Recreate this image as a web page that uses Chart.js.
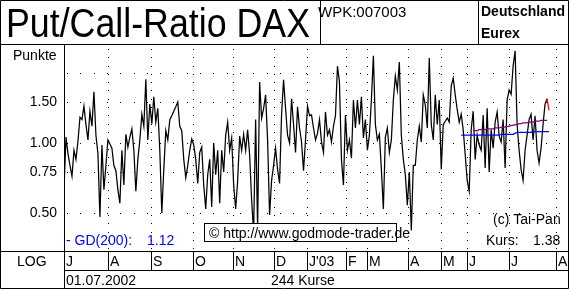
<!DOCTYPE html>
<html>
<head>
<meta charset="utf-8">
<script src="https://cdn.jsdelivr.net/npm/chart.js@4/dist/chart.umd.min.js"></script>
<style>
html, body { margin: 0; padding: 0; background: #fff; }
canvas { display: block; }
</style>
</head>
<body>
<canvas id="myChart" width="569" height="290"></canvas>
<script>
// Put/Call-Ratio DAX, one value per trading day from 01.07.2002
var ratio = [
    0.63, 1.06, 0.90, 0.80, 0.72, 0.93, 0.85, 1.02, 1.29, 1.26, 1.44, 1.20,
    1.03, 1.37, 1.18, 1.66, 1.08, 0.90, 0.48, 0.98, 0.63, 0.80, 1.03, 0.99,
    0.95, 0.80, 0.76, 0.63, 0.55, 0.93, 0.66, 1.09, 0.96, 1.06, 1.15, 0.93,
    0.62, 0.85, 1.03, 1.33, 1.18, 1.88, 1.03, 1.47, 1.21, 1.58, 1.23, 1.41,
    0.93, 0.50, 0.77, 1.13, 1.03, 1.26, 1.31, 1.37, 1.43, 1.50, 1.18, 1.13,
    0.85, 0.71, 0.80, 0.93, 1.04, 0.98, 0.85, 0.67, 0.91, 0.96, 0.66, 0.52,
    0.73, 0.85, 0.53, 1.00, 0.73, 0.93, 0.55, 0.93, 0.75, 1.08, 1.23, 0.93,
    1.05, 0.66, 0.52, 0.69, 1.07, 0.93, 1.09, 0.93, 1.14, 0.89, 0.57, 0.41,
    1.26, 0.43, 1.83, 1.28, 1.41, 1.61, 1.03, 0.49, 0.69, 0.80, 0.95, 0.77,
    0.67, 1.33, 1.87, 1.41, 1.08, 1.00, 1.55, 1.20, 0.91, 1.43, 1.16, 1.01,
    0.76, 1.03, 1.44, 1.31, 1.32, 1.16, 1.03, 1.10, 1.26, 1.01, 0.91, 1.36,
    1.08, 1.14, 1.01, 1.18, 1.31, 2.14, 1.83, 0.85, 0.66, 1.32, 0.93, 1.03,
    0.86, 1.53, 1.16, 1.53, 1.20, 1.58, 1.05, 1.26, 0.93, 1.08, 1.53, 2.37,
    1.20, 1.03, 1.09, 0.77, 0.52, 1.06, 1.16, 0.91, 1.03, 1.53, 1.94, 1.69,
    2.23, 1.08, 0.85, 0.73, 0.54, 0.75, 0.42, 0.80, 0.80, 1.03, 1.18, 1.01,
    1.61, 1.46, 1.16, 2.32, 1.20, 1.03, 1.61, 1.20, 1.53, 0.77, 1.20, 1.24,
    1.28, 1.23, 1.76, 1.90, 1.61, 1.39, 1.23, 1.33, 1.14, 0.89, 0.69, 0.62,
    1.14, 1.37, 0.85, 1.08, 0.98, 0.93, 1.32, 0.78, 1.41, 0.75, 1.14, 0.95,
    1.23, 1.36, 1.07, 1.01, 1.26, 0.78, 1.53, 1.69, 1.62, 2.14, 2.49, 1.20,
    0.93, 0.77, 0.69, 0.93, 1.08, 1.26, 1.33, 1.03, 1.31, 0.93, 0.82, 0.95,
    1.20, 1.47, 1.55, 1.38
];

// GD(200) - 200 day average, first value on day 199
var gdStart = 199;
var gd200 = [
    1.08, 1.08, 1.08, 1.08, 1.08, 1.08, 1.08, 1.08, 1.08, 1.08, 1.08, 1.08,
    1.08, 1.08, 1.08, 1.08, 1.08, 1.08, 1.08, 1.08, 1.09, 1.09, 1.09, 1.09,
    1.09, 1.09, 1.09, 1.10, 1.11, 1.11, 1.11, 1.11, 1.11, 1.11, 1.11, 1.11,
    1.12, 1.12, 1.12, 1.12, 1.12, 1.12, 1.12, 1.12, 1.12
];

// short purple average, first value on day 205
var trendStart = 205;
var trend = [
    1.13, 1.13, 1.13, 1.14, 1.14, 1.14, 1.14, 1.15, 1.15, 1.15, 1.15, 1.16,
    1.16, 1.16, 1.17, 1.17, 1.17, 1.18, 1.18, 1.19, 1.19, 1.20, 1.20, 1.21,
    1.21, 1.22, 1.22, 1.22, 1.23, 1.23, 1.23, 1.24, 1.24, 1.24, 1.25, 1.25,
    1.25, 1.25
];

// month starts (trading day index) and their labels
var monthStarts = [0, 22.1, 43.7, 64.8, 84.8, 105.4, 121.5, 141.1, 151.6, 172.2, 188.8, 201.8, 222.9, 246.5];
var monthLabels = ['J', 'A', 'S', 'O', 'N', 'D', "J'03", 'F', 'M', 'A', 'M', 'J', 'J', 'A'];

var yTicks = [0.5, 0.75, 1, 1.5, 2];
var yMin = 0.343, yMax = 2.665;

var title = 'Put/Call-Ratio DAX';
var wpk = 'WPK:007003';
var startDate = '01.07.2002';

var fam = "'Liberation Sans', Arial, sans-serif";

function points(arr, start) {
    var out = [];
    for (var i = 0; i < arr.length; i++) {
        out.push({ x: start + i, y: arr[i] });
    }
    return out;
}

var n = ratio.length;

const framePlugin = {
    id: 'frame',
    beforeDatasetsDraw: (chart) => {
        const ctx = chart.ctx;
        const a = chart.chartArea;
        const xs = chart.scales.x;
        const ys = chart.scales.y;
        ctx.save();
        ctx.fillStyle = '#000';
        // dotted rows at the y ticks
        yTicks.forEach(function (v) {
            var y = Math.round(ys.getPixelForValue(v));
            for (var x = a.left + 3; x < a.right; x += 13.3) {
                ctx.fillRect(Math.round(x), y, 1, 1);
            }
        });
        // dotted columns at month starts
        monthStarts.slice(1).forEach(function (m) {
            var x = Math.round(xs.getPixelForValue(m));
            if (x >= a.right) return;
            for (var y = a.top + 5; y < a.bottom; y += 8.3) {
                ctx.fillRect(x, Math.round(y), 1, 1);
            }
        });
        ctx.restore();
    },
    afterDraw: (chart) => {
        const ctx = chart.ctx;
        const xs = chart.scales.x;
        const W = 568, H = 288;
        ctx.save();
        ctx.strokeStyle = '#000';
        ctx.lineWidth = 1;
        function line(x1, y1, x2, y2) {
            ctx.beginPath();
            ctx.moveTo(x1 + 0.5, y1 + 0.5);
            ctx.lineTo(x2 + 0.5, y2 + 0.5);
            ctx.stroke();
        }
        // frame
        line(0, 0, W, 0);
        line(0, H, W, H);
        line(0, 0, 0, H);
        line(W, 0, W, H);
        line(0, 44, W, 44);
        line(320, 0, 320, 44);
        line(478, 0, 478, 44);
        line(64, 44, 64, H);
        line(0, 251, W, 251);
        line(64, 270, W, 270);

        // header texts
        ctx.fillStyle = '#000';
        ctx.textBaseline = 'alphabetic';
        ctx.font = '40px ' + fam;
        var tw = ctx.measureText(title).width;
        ctx.save();
        ctx.translate(6, 37);
        ctx.scale(304 / tw, 1);
        ctx.fillText(title, 0, 0);
        ctx.restore();
        ctx.font = '15px ' + fam;
        ctx.fillText(wpk, 318, 17);
        ctx.font = 'bold 14px ' + fam;
        ctx.fillText('Deutschland', 481, 16);
        ctx.fillText('Eurex', 481, 38);

        // plot texts
        ctx.font = '14px ' + fam;
        ctx.fillText('Punkte', 13, 60);
        ctx.fillText('(c) Tai-Pan', 493, 224);
        ctx.fillText('Kurs:', 486, 245);
        ctx.fillText(ratio[n - 1].toFixed(2), 533, 245);
        ctx.fillStyle = '#0000ff';
        ctx.fillText('- GD(200):', 66, 245);
        ctx.fillText(gd200[gd200.length - 1].toFixed(2), 147, 245);

        // copyright box
        ctx.fillStyle = '#fff';
        ctx.fillRect(205, 224, 191, 17);
        ctx.strokeRect(204.5, 223.5, 192, 18);
        ctx.fillStyle = '#000';
        ctx.fillText('\u00a9 http://www.godmode-trader.de', 209, 238);

        // month row
        ctx.fillText('LOG', 17, 266);
        monthStarts.forEach(function (m, i) {
            var x = Math.round(xs.getPixelForValue(m));
            if (i > 0) line(x, 251, x, 270);
            if (x + 2 < W) ctx.fillText(monthLabels[i], x + 2, 266);
        });
        ctx.fillText(startDate, 66, 285);
        ctx.fillText(n + ' Kurse', 271, 285);
        ctx.restore();
    }
};

const ctx = document.getElementById('myChart').getContext('2d');
const myChart = new Chart(ctx, {
    type: 'line',
    data: {
        datasets: [{
            label: 'Put/Call-Ratio',
            data: points(ratio.slice(0, n - 1), 0),
            borderColor: '#000',
            borderWidth: 1.25,
            pointRadius: 0,
            order: 3
        }, {
            label: 'GD(200)',
            data: points(gd200, gdStart),
            borderColor: '#0000ff',
            borderWidth: 1.25,
            pointRadius: 0,
            order: 2
        }, {
            label: 'Trend',
            data: points(trend, trendStart),
            borderColor: '#800080',
            borderWidth: 1.25,
            pointRadius: 0,
            order: 1
        }, {
            label: 'last',
            data: points(ratio.slice(n - 2), n - 2),
            borderColor: '#ff0000',
            borderWidth: 1.25,
            pointRadius: 0,
            order: 0
        }]
    },
    options: {
        responsive: false,
        animation: false,
        events: [],
        layout: { padding: { top: 44, bottom: 39, left: 0, right: 0 } },
        plugins: { legend: { display: false }, tooltip: { enabled: false } },
        scales: {
            x: {
                type: 'linear',
                display: false,
                min: 0,
                max: 253
            },
            y: {
                type: 'logarithmic',
                min: yMin,
                max: yMax,
                afterFit: function (s) { s.width = 64; },
                afterBuildTicks: function (s) {
                    s.ticks = yTicks.map(function (v) { return { value: v }; });
                    s.min = yMin;
                    s.max = yMax;
                },
                grid: { display: false, drawTicks: false },
                border: { display: false },
                ticks: {
                    padding: 7,
                    color: '#000',
                    font: { family: fam, size: 14 },
                    callback: function (v) { return v >= 2 ? '' : Number(v).toFixed(2); }
                }
            }
        }
    },
    plugins: [framePlugin]
});
</script>
</body>
</html>
